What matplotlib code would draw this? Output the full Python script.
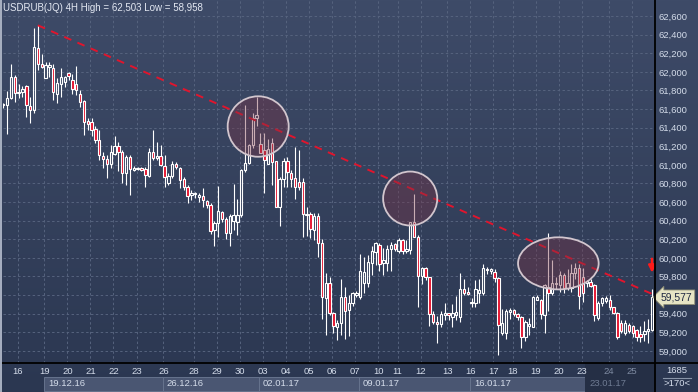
import matplotlib
matplotlib.use('Agg')
import matplotlib.pyplot as plt
import matplotlib.transforms as mtransforms
from matplotlib.patches import Ellipse, Rectangle
from matplotlib.lines import Line2D
import numpy as np

plt.rcParams['font.family'] = ['Liberation Sans', 'DejaVu Sans']

# USDRUB(JQ) 4H candles (bar 0 = last bar of 15.12.16)
opens = [61650, 61643, 61715, 61944, 61770, 61786, 61851, 61629, 61590, 62252,
         62080, 61937, 62048, 62037, 61765, 61873, 61894, 61987, 61912, 61869,
         61761, 61686, 61471, 61464, 61385, 61267, 61099, 61063, 61005, 61113,
         61203, 61142, 60909, 61088, 60945, 60952, 60966, 60955, 60884, 61142,
         61070, 61099, 60987, 60808, 60880, 61009, 60962, 60844, 60758, 60679,
         60683, 60651, 60665, 60615, 60568, 60299, 60378, 60497, 60414, 60263,
         60396, 60386, 60461, 60945, 61023, 61213, 61500, 61224, 61160, 61009,
         61231, 61041, 60550, 60844, 61041, 60909, 60855, 60819, 60812, 60460,
         60472, 60299, 60450, 60163, 59565, 59726, 59411, 59253, 59303, 59576,
         59440, 59511, 59600, 59583, 59726, 59733, 59948, 60067, 60138, 59941,
         59941, 60092, 60149, 60077, 60192, 60077, 60085, 60389, 60228, 59805,
         59887, 59791, 59397, 59314, 59289, 59386, 59411, 59368, 59386, 59368,
         59662, 59633, 59511, 59518, 59626, 59626, 59880, 59862, 59852, 59780,
         59189, 59189, 59422, 59440, 59393, 59368, 59153, 59268, 59260, 59547,
         59547, 59386, 59690, 59619, 59719, 59708, 59816, 59672, 59672, 59834,
         59887, 59798, 59726, 59744, 59708, 59350, 59518, 59540, 59547, 59468,
         59411, 59296, 59196, 59279, 59268, 59225, 59182, 59182, 59213, 59225]
highs = [61660, 61794, 62080, 61966, 61870, 61851, 61858, 61733, 62470, 62503,
         62188, 62109, 62109, 62080, 61930, 62045, 61958, 62001, 61973, 62062,
         61805, 61697, 61507, 61507, 61418, 61375, 61135, 61106, 61213, 61314,
         61242, 61160, 61106, 61106, 60991, 60980, 60980, 60980, 61178, 61375,
         61249, 61213, 61106, 60909, 61045, 61034, 60973, 60866, 60783, 60729,
         60711, 60693, 60747, 60622, 60586, 60400, 60773, 60507, 60436, 60472,
         60794, 60629, 60952, 61643, 61224, 61561, 61726, 61339, 61346, 61274,
         61285, 61045, 60870, 61070, 61088, 60945, 61188, 61160, 60855, 60550,
         60497, 60486, 60479, 60199, 59834, 59798, 59422, 59332, 59769, 59690,
         59601, 59637, 59640, 60042, 60013, 60031, 60128, 60174, 60163, 60102,
         60138, 60174, 60163, 60210, 60199, 60192, 60389, 60686, 60246, 59898,
         59898, 59798, 59432, 59375, 59432, 59511, 59411, 59504, 59590, 59841,
         59769, 59683, 59565, 59762, 59769, 59934, 59905, 59887, 59877, 59798,
         59447, 59447, 59458, 59447, 59411, 59375, 59332, 59350, 59594, 59601,
         59554, 59719, 60264, 59977, 59798, 59855, 59834, 59877, 59934, 59941,
         59934, 59887, 59762, 59769, 59719, 59540, 59583, 59590, 59601, 59475,
         59418, 59332, 59332, 59296, 59279, 59240, 59268, 59325, 59339, 59662]
lows = [61610, 61328, 61708, 61672, 61715, 61733, 61518, 61446, 61554, 62020,
        62037, 61937, 61948, 61697, 61661, 61726, 61840, 61912, 61758, 61751,
        61625, 61321, 61375, 61310, 61231, 61052, 60963, 60862, 60963, 61106,
        60934, 60801, 60783, 60676, 60934, 60941, 60934, 60765, 60873, 61052,
        61052, 60991, 60765, 60783, 60855, 60952, 60747, 60729, 60586, 60622,
        60640, 60604, 60550, 60532, 60256, 60127, 60228, 60389, 60199, 60127,
        60299, 60246, 60443, 60927, 61009, 61177, 61417, 61124, 60694, 61009,
        60783, 60543, 60342, 60765, 60765, 60765, 60629, 60729, 60228, 60235,
        60210, 60192, 60006, 59339, 59171, 59386, 59196, 59117, 59171, 59124,
        59160, 59483, 59580, 59554, 59619, 59690, 59816, 59923, 59862, 59816,
        59862, 59862, 60077, 60056, 60042, 60056, 60042, 60228, 59475, 59719,
        59762, 59268, 59289, 59088, 59260, 59332, 59332, 59260, 59332, 59314,
        59601, 59601, 59475, 59475, 59518, 59601, 59827, 59830, 59744, 58958,
        59171, 59124, 59339, 59375, 59332, 59035, 59106, 59171, 59260, 59543,
        59339, 59189, 59432, 59604, 59669, 59630, 59622, 59651, 59629, 59776,
        59454, 59529, 59690, 59687, 59318, 59332, 59483, 59511, 59440, 59393,
        59124, 59189, 59171, 59189, 59153, 59106, 59099, 59106, 59081, 59213]
closes = [61640, 61715, 61944, 61769, 61785, 61815, 61643, 61586, 62263, 62080,
          62055, 62073, 62073, 61780, 61876, 61940, 61944, 61955, 61815, 61805,
          61679, 61457, 61443, 61375, 61267, 61106, 61059, 61005, 61142, 61203,
          61142, 60909, 61088, 60955, 60970, 60970, 60941, 60891, 61142, 61070,
          61099, 60998, 60866, 60880, 61009, 60973, 60837, 60765, 60665, 60694,
          60694, 60672, 60622, 60568, 60292, 60378, 60500, 60414, 60263, 60450,
          60461, 60461, 60945, 61023, 61213, 61500, 61536, 61131, 61052, 61167,
          61034, 60550, 60850, 61041, 60927, 60844, 60758, 60758, 60472, 60470,
          60306, 60450, 60163, 59576, 59726, 59404, 59268, 59303, 59576, 59432,
          59511, 59626, 59626, 59862, 59852, 59959, 60077, 60156, 59934, 59977,
          60092, 60138, 60092, 60192, 60077, 60092, 60389, 60228, 59805, 59887,
          59791, 59397, 59314, 59289, 59397, 59411, 59386, 59404, 59422, 59662,
          59626, 59612, 59529, 59662, 59655, 59887, 59870, 59877, 59780, 59279,
          59296, 59432, 59440, 59397, 59368, 59153, 59314, 59293, 59576, 59583,
          59397, 59708, 59619, 59726, 59733, 59816, 59672, 59733, 59834, 59887,
          59590, 59619, 59747, 59697, 59386, 59518, 59565, 59565, 59468, 59411,
          59153, 59217, 59296, 59217, 59189, 59153, 59153, 59217, 59232, 59577]

day_labels = ['16', '19', '20', '21', '22', '23', '26', '28', '29', '30', '03', '04', '05', '06',
              '07', '10', '11', '12', '13', '16', '17', '18', '19', '20', '23', '24', '25']
day_first_bar = [4, 11, 17, 23, 29, 35, 42, 50, 56, 62, 68, 74, 80, 86,
                 92, 98, 103, 109, 116, 122, 128, 133, 139, 145, 151, 158, 164]
week_labels = ['19.12.16', '26.12.16', '02.01.17', '09.01.17', '16.01.17', '23.01.17']
week_first_bar = [11, 42, 67, 93, 122, 152]
price_levels = [59000, 59200, 59400, 59600, 59800, 60000, 60200, 60400, 60600, 60800,
                61000, 61200, 61400, 61600, 61800, 62000, 62200, 62400, 62600]

# resistance line (bar, price) and the highlighted retests (bar, price, width in bars, height in price)
trend_bar = [9, 169.7]
trend_price = [62500, 59600]
retests = [(66.4, 61412, 15.9, 650), (106.0, 60638, 14.1, 580), (144.6, 59941, 21.0, 560)]
last_close = closes[-1]

W, H = 698, 392
fx = lambda px: px / W
fy = lambda py: 1 - py / H

fig = plt.figure(figsize=(W / 100, H / 100), dpi=100)

# background gradient
bg = fig.add_axes([0, 0, 1, 1], zorder=0)
top = np.array([62, 75, 104]) / 255
bot = np.array([43, 55, 81]) / 255
t = np.linspace(0, 1, 256)[:, None]
grad = (top[None, :] * (1 - t) + bot[None, :] * t)[:, None, :]
bg.imshow(grad, aspect='auto', extent=[0, 1, 0, 1])
bg.set_xlim(0, 1)
bg.set_ylim(0, 1)
bg.axis('off')

ax = fig.add_axes([fx(3), fy(363), fx(655) - fx(3), fy(0) - fy(363)], zorder=1)
ax.set_facecolor('none')
for s in ax.spines.values():
    s.set_visible(False)

o = np.array(opens, float)
h = np.array(highs, float)
l = np.array(lows, float)
c = np.array(closes, float)
x = np.arange(len(o))
up = c >= o
lo = np.minimum(o, c)
hi = np.maximum(o, c)
ht = np.maximum(hi - lo, 4)

ax.vlines(x, l, lo, color='white', lw=0.8, zorder=3)
ax.vlines(x, hi, h, color='white', lw=0.8, zorder=3)
ax.bar(x[up], ht[up], bottom=lo[up], width=0.62, facecolor='none',
       edgecolor='white', linewidth=0.8, zorder=3)
ax.bar(x[~up], ht[~up], bottom=lo[~up], width=0.62, facecolor='#e5122e',
       edgecolor='white', linewidth=0.8, zorder=3)

ax.plot(trend_bar, trend_price, color='#e0152d', lw=1.4, dashes=(4, 3.4), zorder=4)

for cx, cy, w, hh in retests:
    ax.add_patch(Ellipse((cx, cy), w, hh, facecolor=(0.47, 0.2, 0.27, 0.4),
                         edgecolor='#d2c6ce', lw=1.3, zorder=5))

ax.annotate('', xy=(169, 59840), xytext=(169, 59990),
            arrowprops=dict(arrowstyle='-|>', color='#ff1a1a', lw=1.8,
                            mutation_scale=10, shrinkA=0, shrinkB=0), zorder=6)

ax.set_xlim(-0.08, 169.78)
ax.set_ylim(58870, 62772)

# price axis on the right
ax.yaxis.tick_right()
ax.set_yticks(price_levels)
ax.set_yticklabels([f'{v:,}' for v in price_levels])
ax.tick_params(axis='y', length=0, pad=2.5, labelsize=6.8, labelcolor='#d4dcea')

ax.set_xticks([b - 0.3 for b in day_first_bar])
ax.set_xticklabels(day_labels)
ax.tick_params(axis='x', length=0, pad=3.2, labelsize=6.8, labelcolor='#d4dcea')
for lab in ax.get_xticklabels()[-2:]:
    lab.set_color('#7f8ba2')

ax.grid(True, color='#56637e', lw=0.7, linestyle=(0, (2.5, 2.5)), zorder=0)

# last price tag (covers the 59,600 label, as on the terminal)
tag_tr = mtransforms.blended_transform_factory(ax.transAxes, ax.transData)
ax.text(1.009, last_close, f'{last_close:,}', transform=tag_tr, ha='left', va='center',
        fontsize=7.4, color='#1c2540', zorder=10, clip_on=False,
        bbox=dict(boxstyle='larrow,pad=0.22', fc='#e6e4c4', ec='#8c8c74', lw=0.6))

# week strip under the day labels
strip = mtransforms.blended_transform_factory(ax.transData, fig.transFigure)
xmax = ax.get_xlim()[1]
for i, (lab, b) in enumerate(zip(week_labels, week_first_bar)):
    x0 = b - 0.4
    if i == len(week_labels) - 1:
        bg.add_patch(Rectangle((x0, fy(392)), xmax - x0, fy(363) - fy(392), transform=strip,
                               facecolor='#252f45', edgecolor='none', clip_on=False, zorder=2))
        col = '#6f7b92'
    else:
        x1 = week_first_bar[i + 1] - 0.4
        bg.add_patch(Rectangle((x0, fy(391)), x1 - x0, fy(377) - fy(391), transform=strip,
                               facecolor='#4a5672', edgecolor='#66738d', lw=0.7,
                               clip_on=False, zorder=2))
        col = '#d4dcea'
    bg.text(x0 + 1.0, fy(384), lab, transform=strip, fontsize=6.8, color=col,
            va='center', ha='left', zorder=3)

# frame lines
fig.add_artist(Line2D([fx(655), fx(655)], [0, 1], color='black', lw=1.3))
fig.add_artist(Line2D([0, 1], [fy(363), fy(363)], color='black', lw=1.3))
fig.add_artist(Line2D([fx(0.8), fx(0.8)], [0, 1], color='#a9b1c2', lw=1.4))

fig.text(fx(3), fy(8), 'USDRUB(JQ) 4H High = 62,503 Low = 58,958', fontsize=7,
         color='#e3e8f2', va='center', ha='left')
fig.text(fx(677), fy(370.5), '1685', fontsize=6.8, color='#d4dcea', ha='center', va='center')
fig.add_artist(Line2D([fx(663), fx(691)], [fy(377.5), fy(377.5)], color='#8894a8', lw=0.8))
fig.text(fx(677), fy(384), '>170<', fontsize=6.8, color='#d4dcea', ha='center', va='center')

fig.savefig('out.png', dpi=100)
